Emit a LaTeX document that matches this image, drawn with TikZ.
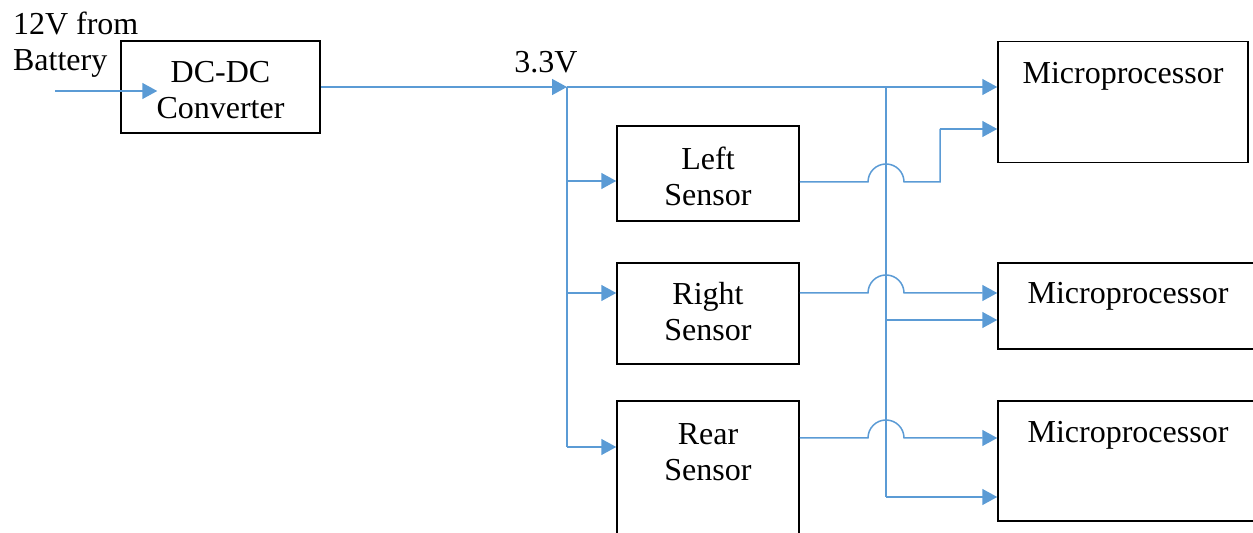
\documentclass[tikz,border=0pt]{standalone}
\usepackage{fontspec}
\setmainfont{Liberation Serif}
\usetikzlibrary{arrows.meta, positioning, calc}
\definecolor{wireBlue}{HTML}{5B9BD5}

\begin{document}
\begin{tikzpicture}[x=0.5pt, y=-0.5pt,
    font=\fontsize{16}{18}\selectfont,
    blk/.style={draw, line width=0.75pt, align=center, inner sep=0pt},
    wire/.style={wireBlue, line width=0.75pt},
    >={Triangle[length=7.5pt, width=8pt]}]
    \useasboundingbox (0,0) rectangle (1253,533);
    \clip (0,0) rectangle (1253,533);

    % blocks
    \node[blk, minimum width=99.5pt, minimum height=46pt] (dcdc) at (220.5,87) {};
    \node[align=center] (dcdctxt) at (220.5,90) {DC-DC\\Converter};
    \node[blk, minimum width=91pt, minimum height=47.5pt] (left) at (708,173.5) {};
    \node[align=center] (lefttxt) at (708,176) {Left\\Sensor};
    \node[blk, minimum width=91pt, minimum height=50.5pt] (right) at (708,313.5) {};
    \node[align=center] (righttxt) at (708,312) {Right\\Sensor};
    \node[blk, minimum width=91pt, minimum height=80pt] (rear) at (708,481) {};
    \node[align=center] (reartxt) at (708,452) {Rear\\Sensor};
    \node[blk, minimum width=125pt, minimum height=60.5pt] (mpa) at (1123,102) {};
    \node[blk, minimum width=130pt, minimum height=43pt] (mpb) at (1128,306) {};
    \node[blk, minimum width=130pt, minimum height=60pt] (mpc) at (1128,461) {};
    \foreach \n/\y in {a/76, b/296, c/435}
      \node (mp\n txt) at (mp\n.north |- 0,\y) {Microprocessor};

    % labels
    \node[align=left, anchor=west] (src) at (6,45) {12V from\\Battery};
    \node (vlbl) at (546,62) {3.3V};

    % supply
    \coordinate (batt) at (55,91);
    \draw[wire, ->, shorten >=-18.5pt] (batt) -- (batt -| dcdc.west);
    \coordinate (tap) at (567,87);
    \draw[wire, ->] (dcdc.east) -- (tap);
    \draw[wire, ->] (tap) -- (tap -| mpa.west);
    \draw[wire] (tap) -- (567,447);
    \foreach \s/\y in {left/181, right/293, rear/447}
      \draw[wire, ->] (567,\y) -- (\s.west |- 0,\y);

    % bus to the processors
    \coordinate (bus) at (886,87);
    \draw[wire] (bus) -- (886,497);
    \foreach \y/\m in {320/b, 497/c}
      \draw[wire, ->] (886,\y) -- (mp\m.west |- 0,\y);

    % sensor outputs, hopping over the bus
    \draw[wire] (left.east |- 0,182) -- (868,182)
      arc[start angle=180, end angle=0, radius=9pt] -- (940,182) -- (940,129);
    \draw[wire, ->] (940,129) -- (mpa.west |- 0,129);
    \foreach \s/\y/\m in {right/293/b, rear/438/c}
      \draw[wire, ->] (\s.east |- 0,\y) -- (868,\y)
        arc[start angle=180, end angle=0, radius=9pt] -- (mp\m.west |- 0,\y);
\end{tikzpicture}
\end{document}
